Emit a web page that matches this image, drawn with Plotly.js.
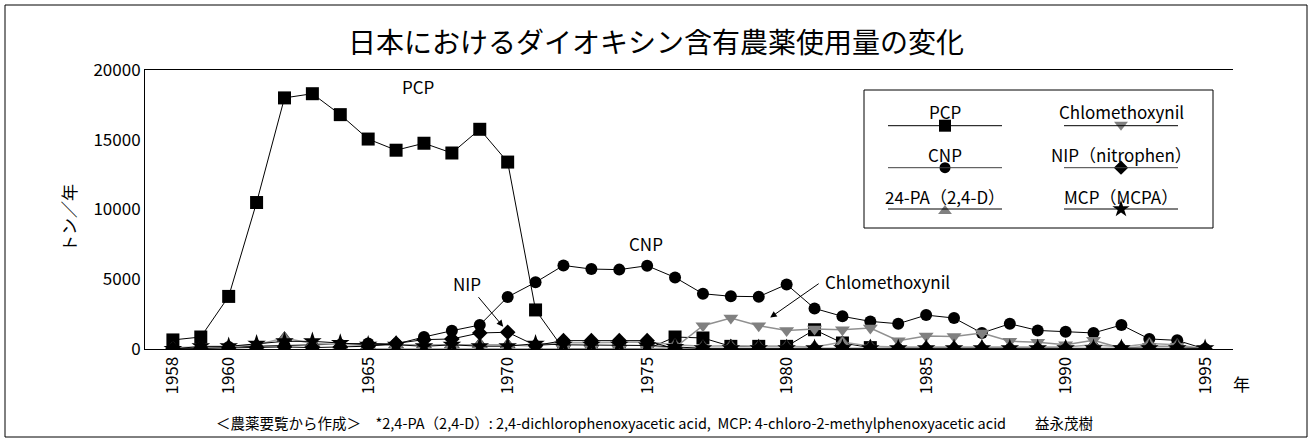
<!DOCTYPE html>
<html>
<head>
<meta charset="utf-8">
<script src="https://cdn.plot.ly/plotly-3.0.1.min.js"></script>
<style>
html,body{margin:0;padding:0;background:#fff;}
#chart{width:1312px;height:443px;}
</style>
</head>
<body>
<div id="chart"></div>
<script>
// ---- data ----
const years = [1958,1959,1960,1961,1962,1963,1964,1965,1966,1967,1968,1969,1970,1971,1972,1973,1974,1975,1976,1977,1978,1979,1980,1981,1982,1983,1984,1985,1986,1987,1988,1989,1990,1991,1992,1993,1994,1995];
const pcp = [650,860,3770,10500,18000,18300,16800,15050,14250,14750,14050,15750,13400,2800,0,0,0,0,860,790,190,190,190,1380,430,100,null,null,null,null,null,null,null,null,null,null,null,null];
const cnp = [50,100,150,200,250,250,300,400,350,860,1310,1720,3730,4780,5990,5730,5690,5970,5130,3960,3780,3750,4630,2910,2340,1980,1810,2430,2220,1150,1810,1330,1240,1150,1720,720,620,0];
const pa24 = [100,150,150,300,790,400,300,250,300,300,300,350,300,200,450,450,450,500,300,200,240,190,200,150,500,200,150,150,150,150,150,150,150,300,150,400,300,0];
const chlomethoxynil = [null,null,null,null,null,null,null,0,0,0,0,0,0,0,0,0,0,0,100,1670,2220,1670,1330,1430,1380,1500,600,930,900,1150,560,480,310,620,50,190,190,0];
const nip = [0,50,80,100,150,100,150,200,400,670,720,1150,1200,250,600,600,600,600,0,0,0,0,0,0,0,0,0,0,0,0,0,0,0,0,0,0,0,0];
const mcp = [0,190,190,380,550,550,430,310,310,190,300,200,200,380,300,300,300,250,150,50,50,50,50,50,50,50,50,50,50,50,50,50,50,50,50,50,50,50];
const seriesNames = ['PCP','CNP','24-PA（2,4-D）','Chlomethoxynil','NIP（nitrophen）','MCP（MCPA）'];
const xTicks = [1958,1960,1965,1970,1975,1980,1985,1990,1995];
const yTicks = [0,5000,10000,15000,20000];

// ---- layout geometry (pixels) ----
const W = 1312, H = 443;
const L = 145, R = 1233, T = 70, B = 349;
const pw = R - L, ph = B - T;
const px = p => (p - L) / pw;
const py = q => (B - q) / ph;

const FONT = '"Noto Sans CJK JP", "Noto Sans", sans-serif';

const styles = [
  {sym:'square', size:13, color:'#000', lc:'#000', lw:1},
  {sym:'circle', size:12, color:'#000', lc:'#000', lw:1},
  {sym:'triangle-up', size:13, color:'#808080', lc:'#a0a0a0', lw:1.5, ol:'#333'},
  {sym:'triangle-down', size:13, color:'#808080', lc:'#909090', lw:1.5},
  {sym:'diamond', size:12, color:'#000', lc:'#000', lw:1},
  {sym:'star', size:14, color:'#000', lc:'#000', lw:1}
];
const series = [pcp, cnp, pa24, chlomethoxynil, nip, mcp];

const traces = series.map((ys, i) => ({
  type:'scatter', mode:'lines+markers', x: years, y: ys, name: seriesNames[i],
  showlegend:false, connectgaps:false, hoverinfo:'skip',
  line:{color: styles[i].lc, width: styles[i].lw},
  marker:{symbol: styles[i].sym, size: styles[i].size, color: styles[i].color,
          line:{color: styles[i].ol || styles[i].color, width: styles[i].ol ? 0.8 : 0}},
  xaxis:'x', yaxis:'y'
}));

// manual legend (positions in plot-fraction coords)
const legCols = [945, 1121];
const legRowsLine = [125.7, 167.7, 209];
const legRowsText = [111, 154, 196];
const legOrder = [[0,0],[1,0],[2,0],[3,1],[4,1],[5,1]]; // [series, col]
const legRowIdx = [0,1,2,0,1,2];
const legLineColors = ['#000','#404040','#000','#000','#404040','#000'];
const shapes = [];
const annotations = [];
legOrder.forEach(([s, c], k) => {
  const r = legRowIdx[k];
  const cx = legCols[c];
  shapes.push({type:'line', xref:'paper', yref:'paper', x0: px(cx-57), x1: px(cx+57),
    y0: py(legRowsLine[r]), y1: py(legRowsLine[r]), line:{color: legLineColors[k], width:1}});
  annotations.push({xref:'paper', yref:'paper', x: px(cx), y: py(legRowsText[r]),
    text: seriesNames[s], showarrow:false, xanchor:'center', yanchor:'middle',
    font:{family:FONT, size:17, color:'#000'}});
  traces.push({type:'scatter', mode:'markers', x:[px(cx)], y:[py(legRowsLine[r] + (styles[s].sym==='triangle-up' ? 2 : (styles[s].sym==='triangle-down'? -1:0)))],
    xaxis:'x2', yaxis:'y2', showlegend:false, hoverinfo:'skip',
    marker:{symbol: styles[s].sym, size: styles[s].size - 1, color: styles[s].color, line:{width:0}}});
});
// legend box
shapes.push({type:'rect', xref:'paper', yref:'paper', x0: px(864), x1: px(1213), y0: py(228), y1: py(90),
  line:{color:'#000', width:1}, fillcolor:'rgba(0,0,0,0)'});
// outer frame
shapes.push({type:'rect', xref:'paper', yref:'paper', x0: px(5), x1: px(1307), y0: py(437), y1: py(5),
  line:{color:'#000', width:1}, fillcolor:'rgba(0,0,0,0)', layer:'below'});

const lblFont = {family:FONT, size:17, color:'#000'};
// chart labels
annotations.push({x: 1966.8, y: 18800, xref:'x', yref:'y', text:'PCP', showarrow:false, yanchor:'middle', font:lblFont});
annotations.push({x: 1974.96, y: 7550, xref:'x', yref:'y', text:'CNP', showarrow:false, yanchor:'middle', font:lblFont});
annotations.push({x: 1968.55, y: 4700, xref:'x', yref:'y', text:'NIP', showarrow:false, yanchor:'middle', font:lblFont});
annotations.push({x: 1981.3, y: 4830, xref:'x', yref:'y', text:'Chlomethoxynil', showarrow:false, xanchor:'left', yanchor:'middle', font:lblFont});
// arrows
annotations.push({x: 1969.84, y: 1600, xref:'x', yref:'y', text:'', showarrow:true, arrowhead:2, arrowsize:1.3, arrowwidth:1, arrowcolor:'#000', ax:-26, ay:-31});
annotations.push({x: 1979.41, y: 2250, xref:'x', yref:'y', text:'', showarrow:true, arrowhead:2, arrowsize:1.3, arrowwidth:1, arrowcolor:'#000', ax:50, ay:-35});
// y title, x unit, footnote
annotations.push({xref:'paper', yref:'paper', x: px(68), y: py(218), text:'トン／年', textangle:-90, showarrow:false,
  xanchor:'center', yanchor:'middle', font:{family:FONT, size:17, color:'#000'}});
annotations.push({xref:'paper', yref:'paper', x: px(1241), y: py(383), text:'年', showarrow:false,
  xanchor:'center', yanchor:'middle', font:{family:FONT, size:17, color:'#000'}});
annotations.push({xref:'paper', yref:'paper', x: px(654), y: py(422), text:'＜農薬要覧から作成＞　*2,4-PA（2,4-D）: 2,4-dichlorophenoxyacetic acid,  MCP: 4-chloro-2-methylphenoxyacetic acid　　益永茂樹',
  showarrow:false, xanchor:'center', yanchor:'middle', font:{family:FONT, size:14.5, color:'#000'}});

const layout = {
  width: W, height: H,
  margin:{l: L, r: W - R, t: T, b: H - B, pad:0},
  paper_bgcolor:'#fff', plot_bgcolor:'rgba(0,0,0,0)',
  font:{family:FONT, color:'#000'},
  title:{text:'日本におけるダイオキシン含有農薬使用量の変化', x:0.5, xref:'container', y: 1 - 43/H, yref:'container', yanchor:'middle',
         font:{family:FONT, size:28, color:'#000'}},
  xaxis:{range:[1957, 1996], tickvals: xTicks, ticktext: xTicks.map(String), tickangle:-90,
         showline:true, linecolor:'#000', linewidth:1, mirror:true, showgrid:false, zeroline:false,
         ticks:'', tickfont:{family:FONT, size:17, color:'#000'}},
  yaxis:{range:[0, 20000], tickvals: yTicks, ticktext: yTicks.map(String),
         showline:true, linecolor:'#000', linewidth:1, showgrid:false, zeroline:false,
         ticks:'', tickfont:{family:FONT, size:17, color:'#000'}},
  xaxis2:{range:[0,1], overlaying:'x', anchor:'y2', visible:false, fixedrange:true},
  yaxis2:{range:[0,1], overlaying:'y', anchor:'x2', visible:false, fixedrange:true},
  shapes: shapes,
  annotations: annotations,
  showlegend:false
};

Plotly.newPlot('chart', traces, layout, {staticPlot:true, displayModeBar:false});
</script>
</body>
</html>
